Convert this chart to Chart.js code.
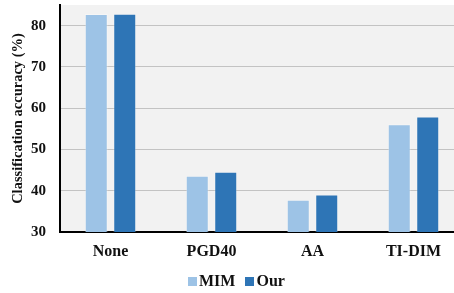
<!DOCTYPE html>
<html>
<head>
<meta charset="utf-8">
<script src="https://cdn.jsdelivr.net/npm/chart.js@4.4.1/dist/chart.umd.min.js"></script>
<style>
  html, body { margin: 0; padding: 0; background: #ffffff; overflow: hidden; }
  #wrap { position: relative; width: 470px; height: 293px; }
  #legend { position: absolute; top: 272px; left: 188px; display: flex; align-items: center;
    font-family: "Liberation Serif", "Times New Roman", serif; font-weight: bold; font-size: 16px; color: #111; white-space: nowrap; }
  #legend .item { display: flex; align-items: center; margin-right: 10px; }
  #legend .box { width: 9px; height: 9px; margin-right: 2px; }
</style>
</head>
<body>
<div id="wrap">
  <canvas id="c" width="470" height="293"></canvas>
  <div id="legend"></div>
</div>
<script>
const categories = ["None", "PGD40", "AA", "TI-DIM"];
const seriesNames = ["MIM", "Our"];
const mimValues = [82.8, 43.6, 37.8, 56.1];
const ourValues = [82.9, 44.6, 39.1, 58.0];
const yTicks = [30, 40, 50, 60, 70, 80];
const colors = ["#9dc3e6", "#2e75b6"];

const FONT = '"Liberation Serif", "Times New Roman", serif';

const plotBg = {
  id: 'plotBg',
  beforeDraw(chart) {
    const a = chart.chartArea, ctx = chart.ctx;
    ctx.save();
    ctx.fillStyle = '#f2f2f2';
    ctx.fillRect(a.left, a.top, a.right - a.left, a.bottom - a.top);
    ctx.restore();
  }
};

const chart = new Chart(document.getElementById('c'), {
  type: 'bar',
  data: {
    labels: categories,
    datasets: [
      { label: seriesNames[0], data: mimValues, backgroundColor: colors[0], borderColor: 'rgba(255,255,255,0.3)', borderWidth: 1,
        categoryPercentage: 0.564, barPercentage: 0.807 },
      { label: seriesNames[1], data: ourValues, backgroundColor: colors[1], borderColor: 'rgba(255,255,255,0.25)', borderWidth: 1,
        categoryPercentage: 0.564, barPercentage: 0.807 }
    ]
  },
  options: {
    responsive: false,
    animation: false,
    layout: { padding: { top: 5, left: 0, right: 6, bottom: 0 } },
    plugins: { legend: { display: false }, tooltip: { enabled: false } },
    scales: {
      x: {
        grid: { display: false, drawTicks: false },
        border: { color: '#000', width: 2 },
        ticks: { color: '#111', font: { family: FONT, weight: 'bold', size: 16 }, padding: 10 },
        afterFit(s) { s.height = 61; s.paddingLeft = 0; s.paddingRight = 0; }
      },
      y: {
        min: 30, max: 85,
        afterBuildTicks(s) { s.ticks = yTicks.map(v => ({ value: v })); },
        grid: { color: '#c3c3c3', lineWidth: 1, drawTicks: false },
        border: { color: '#000', width: 2 },
        ticks: { color: '#111', font: { family: FONT, weight: 'bold', size: 15 }, padding: 14 },
        title: { display: true, text: 'Classification accuracy (%)', color: '#111',
          font: { family: FONT, weight: 'bold', size: 14.5 }, padding: { top: 10, bottom: 0 } },
        afterFit(s) { s.width = 60; s.paddingTop = 0; s.paddingBottom = 0; }
      }
    }
  },
  plugins: [plotBg]
});

const lg = document.getElementById('legend');
seriesNames.forEach((n, i) => {
  const it = document.createElement('div'); it.className = 'item';
  const b = document.createElement('div'); b.className = 'box'; b.style.background = colors[i];
  const t = document.createElement('span'); t.textContent = n;
  it.appendChild(b); it.appendChild(t); lg.appendChild(it);
});
</script>
</body>
</html>
